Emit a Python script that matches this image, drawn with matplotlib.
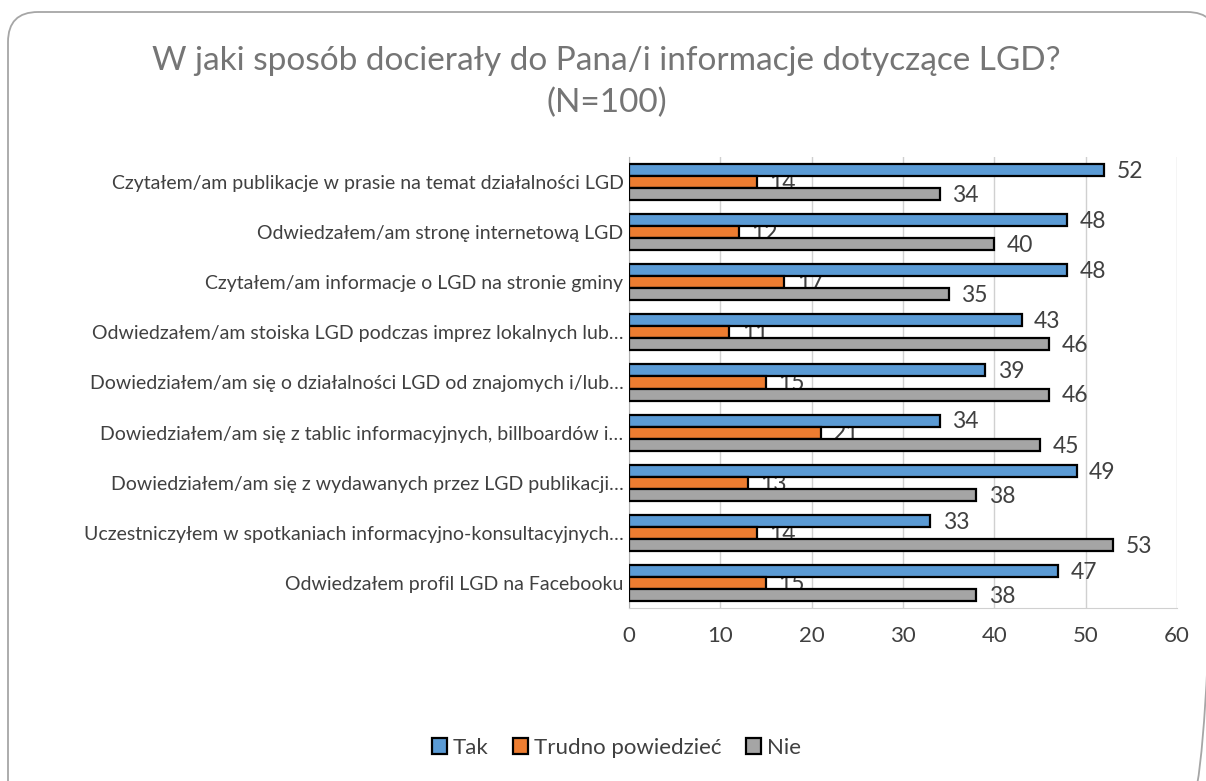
import numpy as np
import matplotlib
matplotlib.use("Agg")
import matplotlib.pyplot as plt
from matplotlib.patches import Patch, FancyBboxPatch

plt.rcParams['font.family'] = ['Lato', 'DejaVu Sans']

# data, top to bottom as in the chart
categories = [
    "Czytałem/am publikacje w prasie na temat działalności LGD",
    "Odwiedzałem/am stronę internetową LGD",
    "Czytałem/am informacje o LGD na stronie gminy",
    "Odwiedzałem/am stoiska LGD podczas imprez lokalnych lub…",
    "Dowiedziałem/am się o działalności LGD od znajomych i/lub…",
    "Dowiedziałem/am się z tablic informacyjnych, billboardów i…",
    "Dowiedziałem/am się z wydawanych przez LGD publikacji…",
    "Uczestniczyłem w spotkaniach informacyjno-konsultacyjnych…",
    "Odwiedzałem profil LGD na Facebooku",
]
tak = [52, 48, 48, 43, 39, 34, 49, 33, 47]
trudno = [14, 12, 17, 11, 15, 21, 13, 14, 15]
nie = [34, 40, 35, 46, 46, 45, 38, 53, 38]
series_names = ["Tak", "Trudno powiedzieć", "Nie"]
colors = ["#5B9BD5", "#ED7D31", "#A5A5A5"]

title = "W jaki sposób docierały do Pana/i informacje dotyczące LGD?\n(N=100)"
text_col = "#404040"

W, H = 1206, 781
fig = plt.figure(figsize=(W / 100, H / 100), dpi=100)

# rounded frame around the slide, drawn in pixel units
bg = fig.add_axes([0, 0, 1, 1])
bg.set_xlim(0, W)
bg.set_ylim(H, 0)
bg.axis("off")
bg.add_patch(FancyBboxPatch((8, 12), 1209, 800,
                            boxstyle="round,pad=0,rounding_size=30",
                            facecolor="none", edgecolor="#a6a6a6", linewidth=1.3))

ax = fig.add_axes([629 / W, 1 - 608 / H, 548 / W, 451 / H])

y = np.arange(len(categories))
h = 0.24
groups = [tak, trudno, nie]
offsets = [-h, 0, h]
for vals, off, col, name in zip(groups, offsets, colors, series_names):
    bars = ax.barh(y + off, vals, height=h, color=col, edgecolor="black",
                   linewidth=1.6, label=name, zorder=3)
    for b, v in zip(bars, vals):
        ax.annotate(str(v), (b.get_width(), b.get_y() + b.get_height() / 2),
                    xytext=(9, -1), textcoords="offset points",
                    ha="left", va="center", fontsize=16.5, color=text_col,
                    zorder=2)

ax.set_xlim(0, 60)
ax.set_ylim(len(categories) - 0.5, -0.5)
ax.set_xticks(range(0, 61, 10))
ax.set_yticks(y)
ax.set_yticklabels(categories, fontsize=14, color=text_col)
ax.tick_params(axis="x", length=0, labelsize=16, labelcolor=text_col, pad=13)
ax.tick_params(axis="y", length=0, pad=4)
ax.grid(axis="x", color="#d0d0d0", linewidth=1, zorder=0)
ax.set_axisbelow(True)
for s in ["top", "right"]:
    ax.spines[s].set_visible(False)
ax.spines["left"].set_color("#b0b0b0")
ax.spines["bottom"].set_color("#d0d0d0")

fig.text(0.503, 1 - 82 / H, title, ha="center", va="center",
         fontsize=24, color="#757575", linespacing=1.45)

handles = [Patch(facecolor=c, edgecolor="black", linewidth=1.6) for c in colors]
fig.legend(handles, series_names, loc="center", bbox_to_anchor=(0.511, 1 - 748 / H),
           ncol=3, frameon=False, fontsize=16, handlelength=0.7, handleheight=0.7,
           handletextpad=0.25, columnspacing=1.1, labelcolor=text_col)

fig.savefig("out.png", dpi=100, facecolor="white")
